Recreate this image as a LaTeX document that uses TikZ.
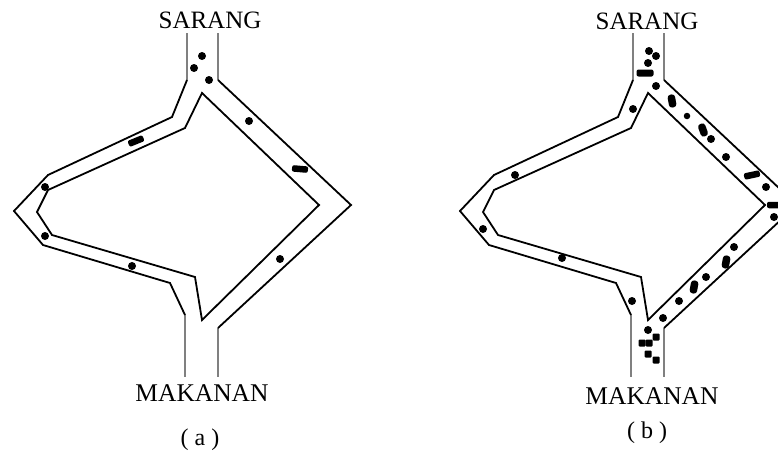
\documentclass[tikz,border=0pt]{standalone}
\usepackage{tikz}
\usepackage{fontspec}
\setmainfont{Liberation Serif}

% jalur semut: dinding luar, pulau tengah, pintu sarang dan makanan
\newcommand{\jalan}{%
  \coordinate (L0) at (187,33);
  \coordinate (L1) at (187,80);
  \coordinate (L2) at (172,117);
  \coordinate (L3) at (48,175);
  \coordinate (L4) at (14,211);
  \coordinate (L5) at (43,245);
  \coordinate (L6) at (170,283);
  \coordinate (L7) at (185,315);
  \coordinate (L8) at (185,377);
  \coordinate (T0) at (202,93);
  \coordinate (T1) at (185,128);
  \coordinate (T2) at (48,190);
  \coordinate (T3) at (37,212);
  \coordinate (T4) at (52,235);
  \coordinate (T5) at (195,277);
  \coordinate (T6) at (202,320);
  \coordinate (T7) at (319,205);
  \coordinate (R0) at (218,33);
  \coordinate (R1) at (218,80);
  \coordinate (R2) at (351,205);
  \coordinate (R3) at (218,328);
  \coordinate (R4) at (218,377);
  \draw[pintu](L0)--(L1);
  \draw[pintu](L7)--(L8);
  \draw[pintu](R0)--(R1);
  \draw[pintu](R3)--(R4);
  \draw[dinding](L1)--(L2)--(L3)--(L4)--(L5)--(L6)--(L7);
  \draw[dinding](T0)--(T1)--(T2)--(T3)--(T4)--(T5)--(T6)--(T7)--cycle;
  \draw[dinding](R1)--(R2)--(R3);
}

\begin{document}
\begin{tikzpicture}[x=1pt,y=-1pt,
  dinding/.style={line width=1.8pt,line join=miter},
  pintu/.style={line width=2.8pt,black!50},
  semut/.style={fill,circle,minimum size=8pt,inner sep=0pt},
  kotak/.style={fill,rectangle,rounded corners=1pt,minimum size=7pt,inner sep=0pt},
  batang/.style={fill,rectangle,rounded corners=2pt,minimum width=16pt,minimum height=6.5pt,inner sep=0pt},
  kapsul/.style={fill,rectangle,rounded corners=3pt,minimum width=13pt,minimum height=7.5pt,inner sep=0pt},
  teks/.style={inner sep=0pt,font=\fontsize{25}{25}\selectfont}]
\clip (0,0) rectangle (778,455);

% (a)
\jalan
\node[teks] (sarangA) at (210,20) {SARANG};
\node[teks,font=\fontsize{25.5}{25}\selectfont] (makananA) at (202,393) {MAKANAN};
\node[teks,font=\fontsize{24}{24}\selectfont] (labelA) at (200,440) {(\kern6pt a\kern6pt)};
\node[semut] (a1) at (202,56) {};
\node[semut] (a2) at (194,68) {};
\node[semut] (a3) at (209,80) {};
\node[semut] (a4) at (249,121) {};
\node[semut] (a5) at (45,187) {};
\node[semut] (a6) at (45,236) {};
\node[semut] (a7) at (132,266) {};
\node[semut] (a8) at (280,259) {};
\node[batang,rotate=22] (a9) at (136,141) {};
\node[batang,rotate=-5] (a10) at (300,169) {};

% (b)
\begin{scope}[xshift=446pt]
\jalan
\end{scope}
\node[teks] (sarangB) at (647,21) {SARANG};
\node[teks,font=\fontsize{25.5}{25}\selectfont] (makananB) at (652,396) {MAKANAN};
\node[teks,font=\fontsize{24}{24}\selectfont] (labelB) at (647,433) {(\kern6pt b\kern6pt)};
\node[semut] (b1) at (649,51) {};
\node[semut] (b2) at (656,56) {};
\node[semut] (b3) at (648,63) {};
\node[batang,minimum width=17pt,minimum height=7pt] (b4) at (645,73) {};
\node[semut] (b5) at (656,86) {};
\node[semut] (b6) at (633,109) {};
\node[kapsul,rotate=100] (b7) at (672,101) {};
\node[semut,minimum size=6.5pt] (b8) at (687,116) {};
\node[kapsul,rotate=110] (b9) at (703,130) {};
\node[semut] (b10) at (711,139) {};
\node[semut] (b11) at (726,157) {};
\node[batang,rotate=12] (b12) at (752,175) {};
\node[semut] (b13) at (766,187) {};
\node[batang] (b14) at (775,205) {};
\node[semut] (b15) at (774,217) {};
\node[semut] (b16) at (734,247) {};
\node[kapsul,rotate=80] (b17) at (726,262) {};
\node[semut] (b18) at (706,277) {};
\node[kapsul,rotate=80] (b19) at (694,287) {};
\node[semut] (b20) at (679,301) {};
\node[semut] (b21) at (663,318) {};
\node[semut] (b22) at (632,301) {};
\node[semut] (b23) at (648,330) {};
\node[kotak] (b24) at (656,337) {};
\node[kotak] (b25) at (642,343) {};
\node[kotak] (b26) at (649,343) {};
\node[kotak] (b27) at (648,354) {};
\node[kotak] (b28) at (656,360) {};
\node[semut] (b29) at (562,258) {};
\node[semut] (b30) at (483,229) {};
\node[semut] (b31) at (515,175) {};
\end{tikzpicture}
\end{document}
